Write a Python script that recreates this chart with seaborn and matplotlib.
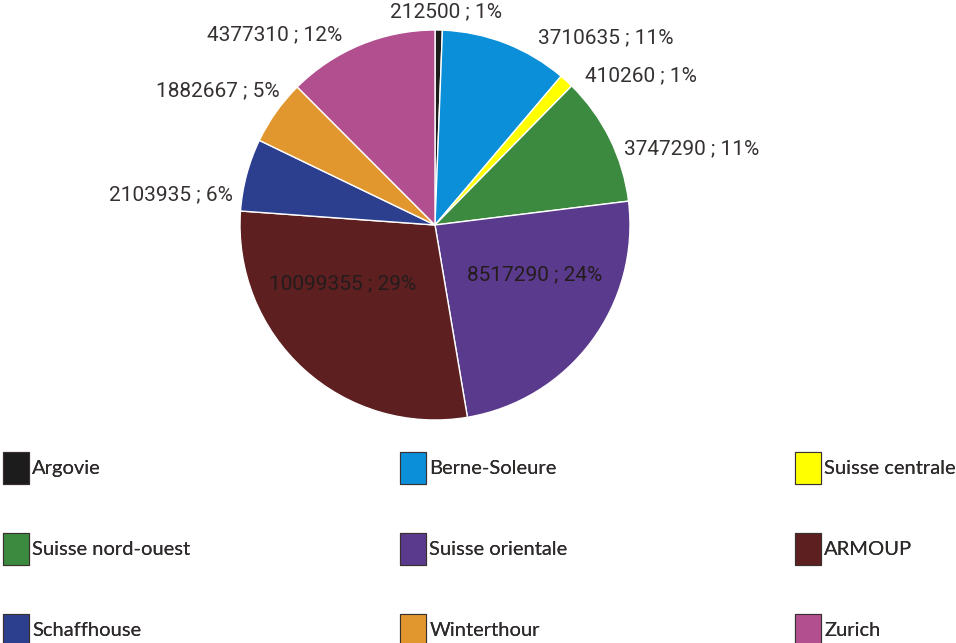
import matplotlib
matplotlib.use("Agg")
import matplotlib.pyplot as plt
from matplotlib.patches import Rectangle
import seaborn as sns

# data
regions = ["Argovie", "Berne-Soleure", "Suisse centrale", "Suisse nord-ouest",
           "Suisse orientale", "ARMOUP", "Schaffhouse", "Winterthour", "Zurich"]
amounts = [212500, 3710635, 410260, 3747290, 8517290, 10099355, 2103935, 1882667, 4377310]
colors = ["#1c1c1c", "#0a8fd8", "#ffff00", "#3b8a3f", "#5a3a8d",
          "#5e1f20", "#2c3f8f", "#e2962e", "#b2508f"]

# label anchor positions (layout only, axes data units, pie radius = 1)
label_pos = [(0.056, 1.092), (0.877, 0.959), (1.056, 0.764), (1.318, 0.390),
             (0.513, -0.256), (-0.472, -0.303), (-1.354, 0.154), (-1.113, 0.687), (-0.821, 0.974)]
inside = [False, False, False, False, True, True, False, False, False]

sns.set_theme(style="white")
plt.rcParams["font.family"] = ["Roboto", "DejaVu Sans"]

fig = plt.figure(figsize=(9.56, 6.43), dpi=100)
W, H = 956, 643
cx, cy, r = 435, 225, 195
ax = fig.add_axes([(cx - r) / W, (H - cy - r) / H, 2 * r / W, 2 * r / H])

wedges, _ = ax.pie(amounts, colors=colors, startangle=90, counterclock=False,
                   wedgeprops=dict(edgecolor="white", linewidth=1.0))
ax.set_xlim(-1, 1)
ax.set_ylim(-1, 1)
ax.set_aspect("equal")
ax.axis("off")

total = sum(amounts)
for amt, (x, y), ins in zip(amounts, label_pos, inside):
    ax.text(x, y, f"{amt} ; {round(100 * amt / total)}%", ha="center", va="center",
            fontsize=15, color="#241c1c" if ins else "#363131", clip_on=False)

# legend: three columns, filled row by row
legend_font = ["Lato", "DejaVu Sans"]
col_x = [3, 400, 795]
for c in range(3):
    idx = [c, c + 3, c + 6]
    handles = [Rectangle((0, 0), 1, 1, facecolor=colors[i], edgecolor="#3a3030", linewidth=0.8)
               for i in idx]
    leg = fig.legend(handles, [regions[i] for i in idx], loc="upper left",
                     bbox_to_anchor=(col_x[c] / W, (H - 452) / H), frameon=False,
                     prop=dict(family=legend_font, size=14.5), handlelength=1.3,
                     handleheight=2.05, handletextpad=0.15, labelspacing=2.45,
                     borderpad=0, borderaxespad=0, labelcolor="#2e2a2a")
    fig.add_artist(leg)

fig.savefig("out.png", dpi=100, facecolor="white")
